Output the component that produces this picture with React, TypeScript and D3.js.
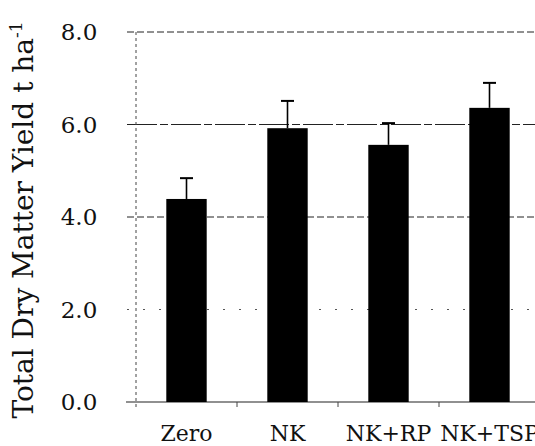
import React from "react";
import * as d3 from "d3";

const categories = ["Zero", "NK", "NK+RP", "NK+TSP"];
const yieldValues = [4.39, 5.92, 5.56, 6.36];
const errorValues = [0.45, 0.59, 0.47, 0.54];
const yTicks = [0, 2, 4, 6, 8];

const W = 535;
const H = 446;
const left = 136;
const right = 540;
const top = 32;
const bottom = 402;

export default function App() {
  const x = d3.scaleBand<string>().domain(categories).range([left, right]).paddingInner(0.6).paddingOuter(0.3);
  const y = d3.scaleLinear().domain([0, 8]).range([bottom, top]);
  const step = x.step();
  const font = "'DejaVu Serif', serif";
  const fmt = d3.format(".1f");
  const boundaries = d3.range(1, categories.length).map((i) => left + i * step);

  return (
    <svg width={W} height={H} style={{ position: "absolute", left: 0, top: 0, background: "#fff" }}>
      {yTicks.filter((t) => t > 0).map((t) => (
        <line
          key={"g" + t}
          x1={left - 9}
          x2={W}
          y1={y(t)}
          y2={y(t)}
          stroke={t === 2 ? "#555" : "#222"}
          strokeWidth={1}
          strokeDasharray={t === 2 ? "2,14" : t === 6 ? "30,3,8,3" : "7,3"}
        />
      ))}
      <line x1={left} x2={left} y1={top} y2={bottom + 6} stroke="#444" strokeWidth={1} strokeDasharray="3,3" />
      <line x1={left - 10} x2={W} y1={y(0)} y2={y(0)} stroke="#222" strokeWidth={1.2} />
      {boundaries.map((b) => (
        <line key={"t" + b} x1={b} x2={b} y1={bottom} y2={bottom + 5} stroke="#444" strokeWidth={1} />
      ))}
      {categories.map((c, i) => (
        <rect key={c} x={x(c)} y={y(yieldValues[i])} width={x.bandwidth()} height={y(0) - y(yieldValues[i])} fill="#000" />
      ))}
      {categories.map((c, i) => {
        const cx = (x(c) as number) + x.bandwidth() / 2;
        const yTop = y(yieldValues[i] + errorValues[i]);
        return (
          <g key={"e" + c} stroke="#000" strokeWidth={1.6}>
            <line x1={cx} x2={cx} y1={y(yieldValues[i])} y2={yTop} />
            <line x1={cx - 6.5} x2={cx + 6.5} y1={yTop} y2={yTop} strokeWidth={2} />
          </g>
        );
      })}
      {yTicks.map((t) => (
        <text key={"l" + t} x={79} y={y(t) + 8} textAnchor="middle" fontFamily={font} fontSize={23} fill="#111">
          {fmt(t)}
        </text>
      ))}
      {categories.map((c) => (
        <text key={"x" + c} x={(x(c) as number) + x.bandwidth() / 2} y={441} textAnchor="middle" fontFamily={font} fontSize={22} fill="#111">
          {c}
        </text>
      ))}
      <text transform={`translate(33,220) rotate(-90)`} textAnchor="middle" fontFamily={font} fontSize={28} fill="#111">
        Total Dry Matter Yield t ha
        <tspan dy={-11} fontSize={17}>-1</tspan>
      </text>
    </svg>
  );
}
